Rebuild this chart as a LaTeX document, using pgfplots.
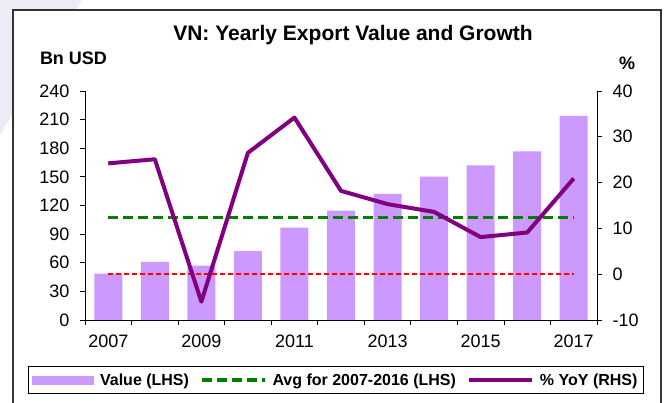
\documentclass[border=0pt]{standalone}
\usepackage{pgfplots}
\pgfplotsset{compat=1.18}
\usepackage{fontspec}
\setmainfont{Liberation Sans}
\definecolor{barcol}{HTML}{CC99FF}
\definecolor{linecol}{HTML}{800080}
\definecolor{avgcol}{HTML}{008000}
\definecolor{zerocol}{HTML}{FF0000}
\definecolor{bgband}{HTML}{ECECF6}
\begin{document}
\begin{tikzpicture}[x=1pt,y=1pt]
\useasboundingbox (0,0) rectangle (669,403);
\fill[bgband] (0,403) -- (82,403) -- (0,268) -- cycle;
\filldraw[fill=white, draw=black!80, line width=1.2pt] (13,-10) rectangle (661,393);
\node[font=\bfseries\fontsize{21}{24}\selectfont] at (353,367.5) {VN: Yearly Export Value and Growth};
\node[font=\bfseries\fontsize{18}{20}\selectfont] at (73.5,345) {Bn USD};
\node[font=\bfseries\fontsize{18}{20}\selectfont] at (627,340) {\%};
\pgfplotsset{
  every axis/.append style={scale only axis, width=512pt, height=229pt, at={(0pt,0pt)}, anchor=south west,
    xmin=-0.5, xmax=10.5, tick align=outside, major tick length=5pt, minor tick length=5pt,
    tick style={black, line width=0.8pt}, axis line style={black, line width=0.8pt},
    ticklabel style={font=\fontsize{18}{20}\selectfont},
    /pgf/number format/assume math mode=true, clip=false},
}
\begin{scope}[shift={(85pt,83pt)}]
\begin{axis}[ymin=0, ymax=240, ytick={0,30,...,240},
  axis y line*=left, axis x line*=bottom,
  xtick={0,2,...,10}, xticklabels={2007,2009,2011,2013,2015,2017},
  minor xtick={-0.5,0.5,1.5,2.5,3.5,4.5,5.5,6.5,7.5,8.5,9.5,10.5},
  major x tick style={draw=none},
  xticklabel style={yshift=-6pt}, yticklabel style={xshift=-7pt}]
\addplot[ybar, bar width=28pt, fill=barcol, draw=none] coordinates {
(0,48.6) (1,61.0) (2,57.1) (3,72.2) (4,96.9) (5,114.5) (6,132.2) (7,150.2) (8,162.1) (9,176.6) (10,214.0)};
\addplot[avgcol, line width=3.5pt, dash pattern=on 10pt off 5pt] coordinates {(0,107.3) (10,107.3)};
\end{axis}
\begin{axis}[ymin=-10, ymax=40, ytick={-10,0,...,40},
  axis y line*=right, axis x line=none,
  yticklabel style={xshift=7pt},
  legend columns=3,
  legend style={at={(axis description cs:0.490,-0.262)}, anchor=center, draw=black, line width=0.8pt,
    font=\bfseries\fontsize{16}{18}\selectfont, inner ysep=5pt, inner xsep=4pt,
    /tikz/every odd column/.append style={column sep=4pt},
    /tikz/every even column/.append style={column sep=9pt}},
  legend cell align=left]
\addlegendimage{legend image code/.code={\fill[barcol] (0pt,-4pt) rectangle (61pt,4pt);}}
\addlegendentry{Value (LHS)}
\addlegendimage{legend image code/.code={\draw[avgcol, line width=3.5pt, dash pattern=on 10pt off 5pt] (0pt,0pt) -- (63pt,0pt);}}
\addlegendentry{Avg for 2007-2016 (LHS)}
\addplot[zerocol, line width=1.5pt, dash pattern=on 5pt off 3pt, forget plot] coordinates {(0,0) (10,0)};
\addplot[linecol, line width=4pt, line join=round,
  legend image code/.code={\draw[linecol, line width=4pt] (0pt,0pt) -- (63pt,0pt);}] coordinates {
(0,24.2) (1,25.1) (2,-6.0) (3,26.5) (4,34.2) (5,18.2) (6,15.3) (7,13.6) (8,8.1) (9,9.1) (10,20.9)};
\addlegendentry{\% YoY (RHS)}
\end{axis}
\end{scope}
\end{tikzpicture}
\end{document}
